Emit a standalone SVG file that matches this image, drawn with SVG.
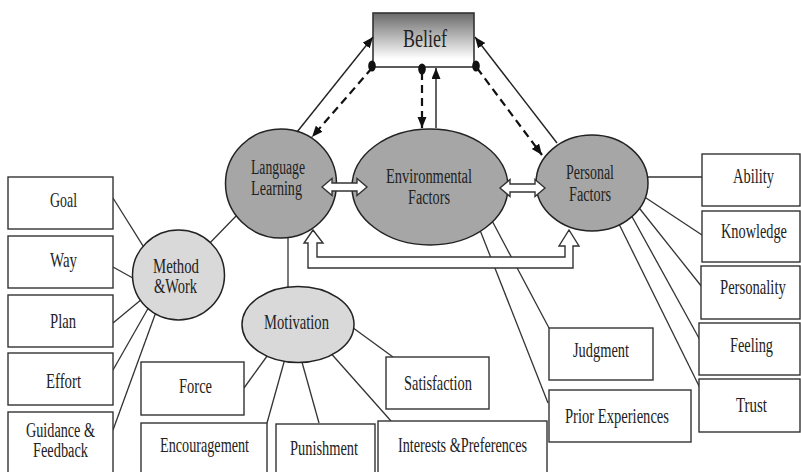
<svg xmlns="http://www.w3.org/2000/svg" width="801" height="472" viewBox="0 0 801 472">
<defs>
<linearGradient id="beliefGrad" x1="0" y1="0" x2="0" y2="1">
<stop offset="0" stop-color="#6a6a6a"/>
<stop offset="0.85" stop-color="#ffffff"/>
<stop offset="1" stop-color="#ffffff"/>
</linearGradient>
<marker id="ah" markerWidth="12" markerHeight="10" refX="11" refY="4.5" orient="auto" markerUnits="userSpaceOnUse">
<path d="M0,0 L11,4.5 L0,9 z" fill="#111"/>
</marker>
</defs>
<style>
.box{fill:#fff;stroke:#333;stroke-width:1.4}
.dark{fill:#a6a6a6;stroke:#222;stroke-width:1.5}
.light{fill:#d9d9d9;stroke:#222;stroke-width:1.5}
.ln{stroke:#333;stroke-width:1.3;fill:none}
.sol{stroke:#222;stroke-width:1.4;fill:none;marker-end:url(#ah)}
.dash{stroke:#111;stroke-width:2.2;fill:none;stroke-dasharray:8 5;marker-end:url(#ah)}
.blk{fill:#fff;stroke:#333;stroke-width:1.4;stroke-linejoin:miter}
text{font-family:"Liberation Serif","Times New Roman",serif;font-size:21px;fill:#222}
.two{font-size:20px}
</style>
<rect width="801" height="472" fill="#fff"/>

<g id="connectors-lines">
<line class="ln" x1="205" y1="248" x2="238" y2="214"/>
<line class="ln" x1="288" y1="232" x2="288" y2="295"/>
<line class="ln" x1="113" y1="198" x2="150" y2="257"/>
<line class="ln" x1="113" y1="267" x2="140" y2="282"/>
<line class="ln" x1="113" y1="323" x2="142" y2="299"/>
<line class="ln" x1="113" y1="370" x2="150" y2="305"/>
<line class="ln" x1="113" y1="430" x2="156" y2="312"/>
<line class="ln" x1="244" y1="388" x2="270" y2="352"/>
<line class="ln" x1="267" y1="423" x2="286" y2="355"/>
<line class="ln" x1="319" y1="423" x2="300" y2="355"/>
<line class="ln" x1="391" y1="421" x2="328" y2="350"/>
<line class="ln" x1="393" y1="357" x2="345" y2="322"/>
<line class="ln" x1="640" y1="177" x2="702" y2="177"/>
<line class="ln" x1="640" y1="194" x2="702" y2="235"/>
<line class="ln" x1="636" y1="204" x2="702" y2="287"/>
<line class="ln" x1="630" y1="213" x2="700" y2="340"/>
<line class="ln" x1="618" y1="222" x2="700" y2="388"/>
<line class="ln" x1="478" y1="225" x2="548" y2="403"/>
<line class="ln" x1="489" y1="215" x2="549" y2="328"/>
</g>

<g id="belief">
<rect x="373" y="13" width="101" height="54" fill="url(#beliefGrad)" stroke="#333" stroke-width="1.6"/>
<text x="403" y="47" textLength="44" lengthAdjust="spacingAndGlyphs" style="font-size:25px">Belief</text>
</g>
<g id="language-learning">
<ellipse class="dark" cx="281" cy="183.5" rx="55.5" ry="54.5"/>
<text class="two" x="251" y="174" textLength="54" lengthAdjust="spacingAndGlyphs">Language</text>
<text class="two" x="251" y="195" textLength="51" lengthAdjust="spacingAndGlyphs">Learning</text>
</g>
<g id="environmental-factors">
<ellipse class="dark" cx="430" cy="187" rx="78" ry="58"/>
<text class="two" x="386" y="183" textLength="86" lengthAdjust="spacingAndGlyphs">Environmental</text>
<text class="two" x="408" y="204" textLength="42" lengthAdjust="spacingAndGlyphs">Factors</text>
</g>
<g id="personal-factors">
<ellipse class="dark" cx="592" cy="183" rx="56" ry="48"/>
<text class="two" x="566" y="179" textLength="48" lengthAdjust="spacingAndGlyphs">Personal</text>
<text class="two" x="569" y="201" textLength="42" lengthAdjust="spacingAndGlyphs">Factors</text>
</g>
<g id="method-work">
<ellipse class="light" cx="178.5" cy="275" rx="46" ry="45"/>
<text class="two" x="153" y="273" textLength="46" lengthAdjust="spacingAndGlyphs">Method</text>
<text class="two" x="154" y="293" textLength="43" lengthAdjust="spacingAndGlyphs">&amp;Work</text>
</g>
<g id="motivation">
<ellipse class="light" cx="298" cy="324.5" rx="56" ry="38"/>
<text x="264" y="329" textLength="65" lengthAdjust="spacingAndGlyphs">Motivation</text>
</g>

<g id="goal"><rect class="box" x="8" y="177" width="105" height="52"/><text x="50" y="207" textLength="27" lengthAdjust="spacingAndGlyphs">Goal</text></g>
<g id="way"><rect class="box" x="8" y="236" width="105" height="52"/><text x="50" y="267" textLength="27" lengthAdjust="spacingAndGlyphs">Way</text></g>
<g id="plan"><rect class="box" x="8" y="295" width="105" height="52"/><text x="50" y="328" textLength="26" lengthAdjust="spacingAndGlyphs">Plan</text></g>
<g id="effort"><rect class="box" x="8" y="353" width="105" height="52"/><text x="46" y="388" textLength="35" lengthAdjust="spacingAndGlyphs">Effort</text></g>
<g id="guidance"><rect class="box" x="8" y="412" width="105" height="70"/><text class="two" x="26" y="437" textLength="69" lengthAdjust="spacingAndGlyphs">Guidance &amp;</text><text class="two" x="33" y="457" textLength="55" lengthAdjust="spacingAndGlyphs">Feedback</text></g>

<g id="force"><rect class="box" x="141" y="362" width="103" height="53"/><text x="179" y="393" textLength="33" lengthAdjust="spacingAndGlyphs">Force</text></g>
<g id="encouragement"><rect class="box" x="141" y="423" width="126" height="60"/><text x="160" y="452" textLength="89" lengthAdjust="spacingAndGlyphs">Encouragement</text></g>
<g id="punishment"><rect class="box" x="276" y="424" width="99" height="60"/><text x="290" y="455" textLength="68" lengthAdjust="spacingAndGlyphs">Punishment</text></g>
<g id="interests"><rect class="box" x="378" y="421" width="169" height="60"/><text x="398" y="452" textLength="129" lengthAdjust="spacingAndGlyphs">Interests &amp;Preferences</text></g>
<g id="satisfaction"><rect class="box" x="386" y="357" width="103" height="52"/><text x="404" y="390" textLength="68" lengthAdjust="spacingAndGlyphs">Satisfaction</text></g>

<g id="ability"><rect class="box" x="702" y="154" width="98" height="52"/><text x="733" y="183" textLength="41" lengthAdjust="spacingAndGlyphs">Ability</text></g>
<g id="knowledge"><rect class="box" x="702" y="211" width="98" height="51"/><text transform="translate(721,238) scale(0.68,1)" x="0" y="0" textLength="97" lengthAdjust="spacingAndGlyphs">Knowledge</text></g>
<g id="personality"><rect class="box" x="701" y="266" width="99" height="53"/><text transform="translate(720,294) scale(0.7,1)" x="0" y="0" textLength="94" lengthAdjust="spacingAndGlyphs">Personality</text></g>
<g id="feeling"><rect class="box" x="699" y="323" width="101" height="52"/><text x="730" y="352" textLength="43" lengthAdjust="spacingAndGlyphs">Feeling</text></g>
<g id="trust"><rect class="box" x="699" y="379" width="101" height="53"/><text x="736" y="412" textLength="31" lengthAdjust="spacingAndGlyphs">Trust</text></g>

<g id="judgment"><rect class="box" x="549" y="328" width="104" height="52"/><text x="573" y="357" textLength="56" lengthAdjust="spacingAndGlyphs">Judgment</text></g>
<g id="prior-experiences"><rect class="box" x="549" y="390" width="142" height="52"/><text x="565" y="423" textLength="104" lengthAdjust="spacingAndGlyphs">Prior Experiences</text></g>

<g id="connectors-arrows">
<line class="sol" x1="297" y1="132" x2="373" y2="37"/>
<line class="dash" x1="372" y1="68" x2="312" y2="137"/>
<line class="dash" x1="422" y1="72" x2="422" y2="128"/>
<line class="sol" x1="436" y1="128" x2="436" y2="68"/>
<line class="sol" x1="557" y1="143" x2="475" y2="37"/>
<line class="dash" x1="477" y1="68" x2="542" y2="155"/>
<ellipse cx="372" cy="66" rx="3.8" ry="5.5" fill="#111"/>
<ellipse cx="422" cy="69" rx="3.8" ry="5.5" fill="#111"/>
<ellipse cx="476" cy="66" rx="3.8" ry="5.5" fill="#111"/>
<polygon class="blk" points="322,187 332,178.5 332,183 357,183 357,178.5 367,187 357,195.5 357,191 332,191 332,195.5"/>
<polygon class="blk" points="500,188 510,179.5 510,184 535,184 535,179.5 545,188 535,196.5 535,192 510,192 510,196.5"/>
<polygon class="blk" points="313,230 323,243 317,243 317,257 565,257 565,246 559,246 569,230 579,246 573,246 573,268 308,268 308,243 304,243"/>
</g>
</svg>
